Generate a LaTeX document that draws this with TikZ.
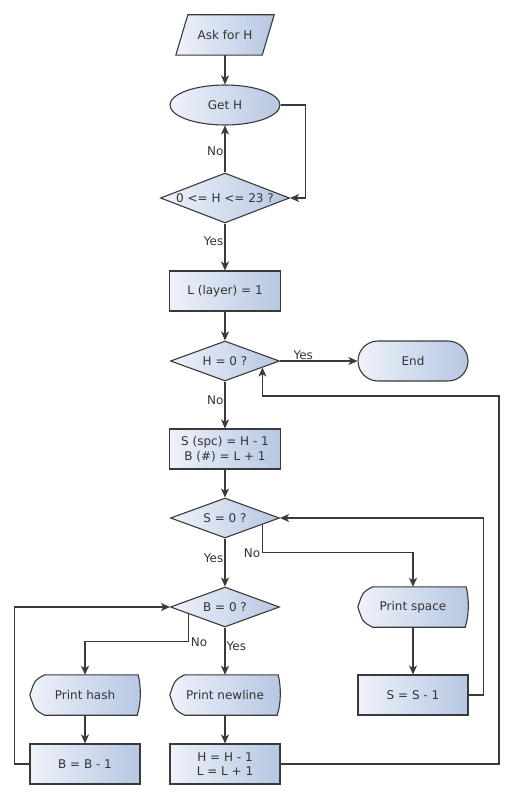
\documentclass[tikz,border=0pt]{standalone}
\usepackage{fontspec}
\setmainfont{DejaVu Sans}
\usetikzlibrary{shapes.geometric,shapes.misc,arrows.meta,calc}
\definecolor{cleft}{HTML}{EEF2FA}
\definecolor{cright}{HTML}{B6C7E2}
\definecolor{cline}{HTML}{3A3A3A}
\definecolor{ctext}{HTML}{333333}
\begin{document}
\begin{tikzpicture}[x=1pt,y=-1pt,
  font=\fontsize{12}{14.5}\selectfont, text=ctext,
  base/.style={draw=cline, line width=1.1pt, left color=cleft, right color=cright, inner sep=0pt, align=center},
  box/.style={base, rectangle, minimum width=111, minimum height=40},
  dec/.style={base, diamond, minimum width=109, minimum height=40},
  oval/.style={base, ellipse, minimum width=110, minimum height=40},
  term/.style={base, rounded rectangle, minimum width=110, minimum height=40},
  ghost/.style={rectangle, minimum width=110, minimum height=40, inner sep=0pt, align=center},
  shp/.style={draw=cline, line width=1.1pt, left color=cleft, right color=cright},
  arr/.style={draw=cline, line width=1.3pt, -{Stealth[length=9pt,width=8pt,inset=2.5pt]}},
  lbl/.style={inner sep=1pt}
]
\useasboundingbox (0,0) rectangle (513,800);

% custom shapes drawn first (parallelogram, display)
\node[ghost, minimum width=98] (ask) at (225,35) {};
\shade[shp] (ask.south west) -- ($(ask.north west)+(12,0)$) -- (ask.north east) -- ($(ask.south east)+(-12,0)$) -- cycle;
\node (asktxt) at (ask) {Ask for H};

\newcommand{\dispshape}[1]{%
  \shade[shp] ($(#1.north west)+(15,0)$) -- ($(#1.north east)+(-2,0)$)
    .. controls ($(#1.east)+(1,-8)$) and ($(#1.east)+(1,8)$) .. ($(#1.south east)+(-3,0)$)
    -- ($(#1.south west)+(15,0)$)
    .. controls ($(#1.south west)+(5,-5)$) .. (#1.west)
    .. controls ($(#1.north west)+(5,5)$) .. ($(#1.north west)+(15,0)$) -- cycle;}

\node[ghost] (pspace) at (413,607) {};
\dispshape{pspace}
\node (pspacetxt) at (pspace) {Print space};
\node[ghost] (phash) at (85,695) {};
\dispshape{phash}
\node (phashtxt) at (phash) {Print hash};
\node[ghost] (pnl) at (225,695) {};
\dispshape{pnl}
\node (pnltxt) at (pnl) {Print newline};

\node[oval] (geth) at (225,105) {Get H};
\node[dec, minimum width=129, minimum height=50] (d1) at (225,198) {};
\node (d1txt) at (d1) {0 <= H <= 23 ?};
\node[box] (l1) at (225,291) {L (layer) = 1};
\node[dec] (h0) at (225,361) {};
\node (h0txt) at (h0) {H = 0 ?};
\node[term] (end) at (413,361) {End};
\node[box] (s1) at (225,449) {S (spc) = H - 1\\B (\#) = L + 1};
\node[dec] (s0) at (225,518) {};
\node (s0txt) at (s0) {S = 0 ?};
\node[dec] (b0) at (225,607) {};
\node (b0txt) at (b0) {B = 0 ?};
\node[box, minimum width=110] (sminus) at (413,695) {S = S - 1};
\node[box, minimum width=110] (bminus) at (85,764) {B = B - 1};
\node[box, minimum width=110] (hl) at (225,764) {H = H - 1\\L = L + 1};

% connectors
\draw[arr] (ask.south) -- (geth.north);
\draw[arr] (geth.east) -- ++(25,0) |- (d1.east);
\draw[arr] (d1.north) -- node[lbl, left, pos=0.45] (lno1) {No} (geth.south);
\draw[arr] (d1.south) -- node[lbl, left, pos=0.38] (lyes1) {Yes} (l1.north);
\draw[arr] (l1.south) -- (h0.north);
\draw[arr] (h0.east) -- node[lbl, above, pos=0.3] (lyes2) {Yes} (end.west);
\draw[arr] (h0.south) -- node[lbl, left, pos=0.4] (lno2) {No} (s1.north);
\draw[arr] (s1.south) -- (s0.north);
\draw[arr] (s0.south) -- node[lbl, left, pos=0.42] (lyes3) {Yes} (b0.north);

\coordinate (s0p) at ($(s0.east)!0.32!(s0.south)$);
\coordinate (s0k) at ($(pspace.north)+(0,-34)$);
\draw[arr] (s0p) |- (s0k) -- (pspace.north);
\node[lbl, anchor=south east] (lno3) at ($(s0p |- s0k)+(-1,6)$) {No};

\draw[arr] (pspace.south) -- (sminus.north);
\draw[arr] (sminus.east) -- ++(15,0) |- (s0.east);

\coordinate (b0p) at ($(b0.west)!0.34!(b0.south)$);
\coordinate (b0k) at ($(phash.north)+(0,-33)$);
\draw[arr] (b0p) |- (b0k) -- (phash.north);
\node[lbl, anchor=south west] (lno4) at ($(b0p |- b0k)+(1,6)$) {No};
\draw[arr] (b0.south) -- node[lbl, right, pos=0.4] (lyes4) {Yes} (pnl.north);

\draw[arr] (phash.south) -- (bminus.north);
\draw[arr] (pnl.south) -- (hl.north);
\draw[arr] (bminus.west) -- ++(-15,0) |- (b0.west);

\coordinate (h0p) at ($(h0.east)!0.32!(h0.south)$);
\coordinate (r1) at (499,396);
\draw[arr] (hl.east) -| (r1) -| (h0p);
\end{tikzpicture}
\end{document}
